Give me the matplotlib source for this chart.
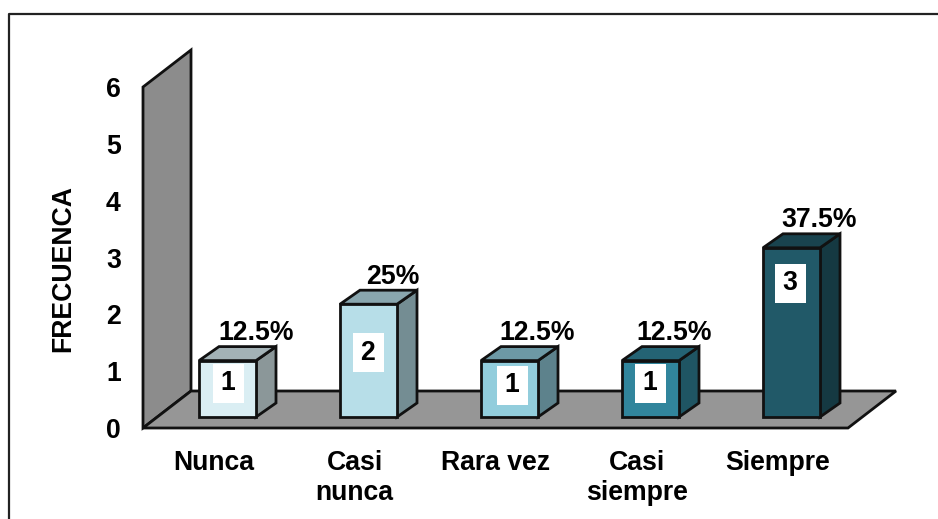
import matplotlib
matplotlib.use("Agg")
import matplotlib.pyplot as plt
from matplotlib.lines import Line2D
from matplotlib.patches import Polygon, Rectangle

categories = ["Nunca", "Casi\nnunca", "Rara vez", "Casi\nsiempre", "Siempre"]
values = [1, 2, 1, 1, 3]
percents = ["12.5%", "25%", "12.5%", "12.5%", "37.5%"]
yticks = [0, 1, 2, 3, 4, 5, 6]

front_colors = ["#DAEEF3", "#B7DEE8", "#92CDDC", "#31859C", "#215968"]
top_colors = ["#A3B2B6", "#89A6AE", "#6D99A5", "#246374", "#19434E"]
side_colors = ["#8B9799", "#748D93", "#5D828C", "#1F5563", "#153942"]

# pixel tweaks of the labels
pct_dx = [-10, -14, -11, -15, -11]
box_dx = [1, 0, 3, 0, -1]
box_drop = [22.5, 48.5, 24.5, 22.5, 35.5]

W, H = 938, 519
PX_X = 1 / 141          # one pixel in x data units
PX_Y = 6 / 341          # one pixel in y data units

plt.rcParams["font.family"] = ["Liberation Sans", "DejaVu Sans"]
plt.rcParams["font.weight"] = "bold"
plt.rcParams["font.size"] = 19.2

fig = plt.figure(figsize=(W / 100, H / 100), dpi=100)
ax = fig.add_axes([143 / W, 1 - 428 / H, 705 / W, 341 / H])
ax.set_xlim(-0.5, 4.5)
ax.set_ylim(0, 6)
for s in ax.spines.values():
    s.set_visible(False)
ax.patch.set_visible(False)


def poly(pts, color, z=2, lw=2):
    ax.add_patch(Polygon(pts, closed=True, facecolor=color, edgecolor="#111111",
                         linewidth=lw, joinstyle="miter", clip_on=False, zorder=z))


# wall and floor
wx = 48 * PX_X
wy = 37 * PX_Y
poly([(-0.5, 0), (-0.5 + wx, wy), (-0.5 + wx, 6 + wy), (-0.5, 6)], "#8C8C8C", 1)
poly([(-0.5, 0), (4.5, 0), (4.5 + wx, wy), (-0.5 + wx, wy)], "#969696", 1)

# bars
bw = 57 * PX_X
dx = 20 * PX_X
dy = 14 * PX_Y
base = 11 * PX_Y
left0 = 14 * PX_X - bw / 2
scale = 56.4 * PX_Y
for i, v in enumerate(values):
    x0 = i + left0
    x1 = x0 + bw
    top = base + v * scale
    poly([(x1, base), (x1 + dx, base + dy), (x1 + dx, top + dy), (x1, top)], side_colors[i], 2)
    poly([(x0, top), (x1, top), (x1 + dx, top + dy), (x0 + dx, top + dy)], top_colors[i], 2)
    poly([(x0, base), (x1, base), (x1, top), (x0, top)], front_colors[i], 3)

    # white box with the count
    cx = (x0 + x1) / 2 + box_dx[i] * PX_X
    cy = top - box_drop[i] * PX_Y
    ax.add_patch(Rectangle((cx - 15.5 * PX_X, cy - 19.5 * PX_Y), 31 * PX_X, 39 * PX_Y,
                           facecolor="white", edgecolor="none", zorder=4, clip_on=False))
    ax.text(cx - 1 * PX_X, cy, str(v), ha="center", va="center", color="black", zorder=5)

    # percentage above the bar
    ax.text((x1 + dx / 2) + pct_dx[i] * PX_X, top + 27.5 * PX_Y, percents[i],
            ha="center", va="center", color="black", zorder=5)

    # category label
    ax.annotate(categories[i], xy=(i, 0), xytext=(0, -16), xycoords="data",
                textcoords="offset points", ha="center", va="top", color="black",
                linespacing=1.17, annotation_clip=False)

ax.set_xticks([])
ax.set_yticks(yticks)
ax.set_yticklabels([str(t) for t in yticks], color="black")
ax.tick_params(axis="y", length=0, pad=16)
ax.set_ylabel("FRECUENCA", color="black", fontweight="bold")
ax.yaxis.set_label_coords((76 - 143) / 705, (428 - 268) / 341)

# outer chart frame, left and top edges only
fig.add_artist(Line2D([9 / W, 9 / W, 1], [0, 1 - 14 / H, 1 - 14 / H], color="#222222", linewidth=1.6))

fig.savefig("out.png", dpi=100)
